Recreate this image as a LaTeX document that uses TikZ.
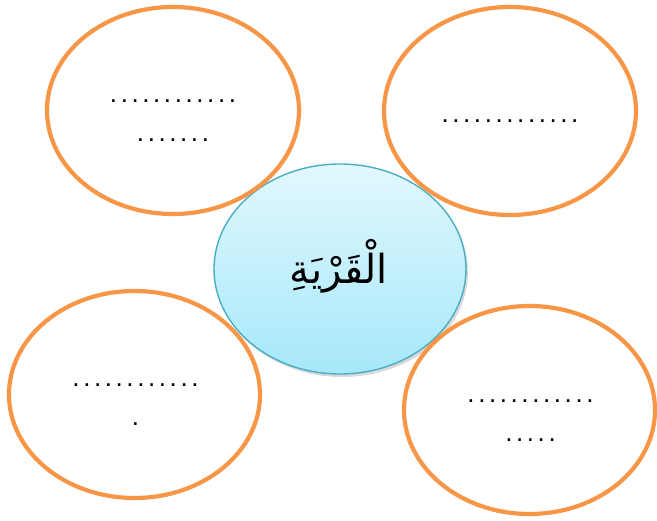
\documentclass[tikz,border=0pt]{standalone}
\usepackage{fontspec}
\setmainfont{Liberation Sans}
\newfontfamily\arabicfont[Script=Arabic]{DejaVu Sans}
\TeXXeTstate=1
\usetikzlibrary{shadows}
\definecolor{orng}{RGB}{247,150,70}
\definecolor{tealb}{RGB}{75,172,198}
\definecolor{ltop}{RGB}{226,248,254}
\definecolor{lbot}{RGB}{166,232,250}
\newcommand\dd{\makebox[10.8pt]{.}}
\begin{document}
\begin{tikzpicture}[x=1pt,y=-1pt,
  bubble/.style={draw=orng,line width=4.2pt},
  hub/.style={draw=tealb,line width=1.4pt,top color=ltop,bottom color=lbot,
    drop shadow={opacity=0.3,shadow xshift=2pt,shadow yshift=-3pt}},
  dots/.style={anchor=base,inner sep=0pt,font=\fontsize{26}{26}\selectfont}]
\useasboundingbox (0,0) rectangle (657,521);
% central ellipse
\path[hub] (340,269) ellipse [x radius=126,y radius=105];
\node[font=\arabicfont\fontsize{40}{40}\selectfont] (hubtext) at (339,266) {\beginR الْقَرْيَةِ\endR};
% surrounding ellipses
\draw[bubble] (173,110.5) ellipse [x radius=126,y radius=103.5];
\draw[bubble] (510,111) ellipse [x radius=126,y radius=104];
\draw[bubble] (134.5,394.5) ellipse [x radius=125.5,y radius=103.5];
\draw[bubble] (529.5,410) ellipse [x radius=125.5,y radius=104];
% dotted placeholders
\node[dots] (tla) at (173,103) {\dd\dd\dd\dd\dd\dd\dd\dd\dd\dd\dd\dd};
\node[dots] (tlb) at (173,142) {\dd\dd\dd\dd\dd\dd\dd};
\node[dots] (tra) at (510,123) {\dd\dd\dd\dd\dd\dd\dd\dd\dd\dd\dd\dd\dd};
\node[dots] (bla) at (135.5,387) {\dd\dd\dd\dd\dd\dd\dd\dd\dd\dd\dd\dd};
\node[dots] (blb) at (135.5,426) {\dd};
\node[dots] (bra) at (530.5,403) {\dd\dd\dd\dd\dd\dd\dd\dd\dd\dd\dd\dd};
\node[dots] (brb) at (530.5,442) {\dd\dd\dd\dd\dd};
\end{tikzpicture}
\end{document}
